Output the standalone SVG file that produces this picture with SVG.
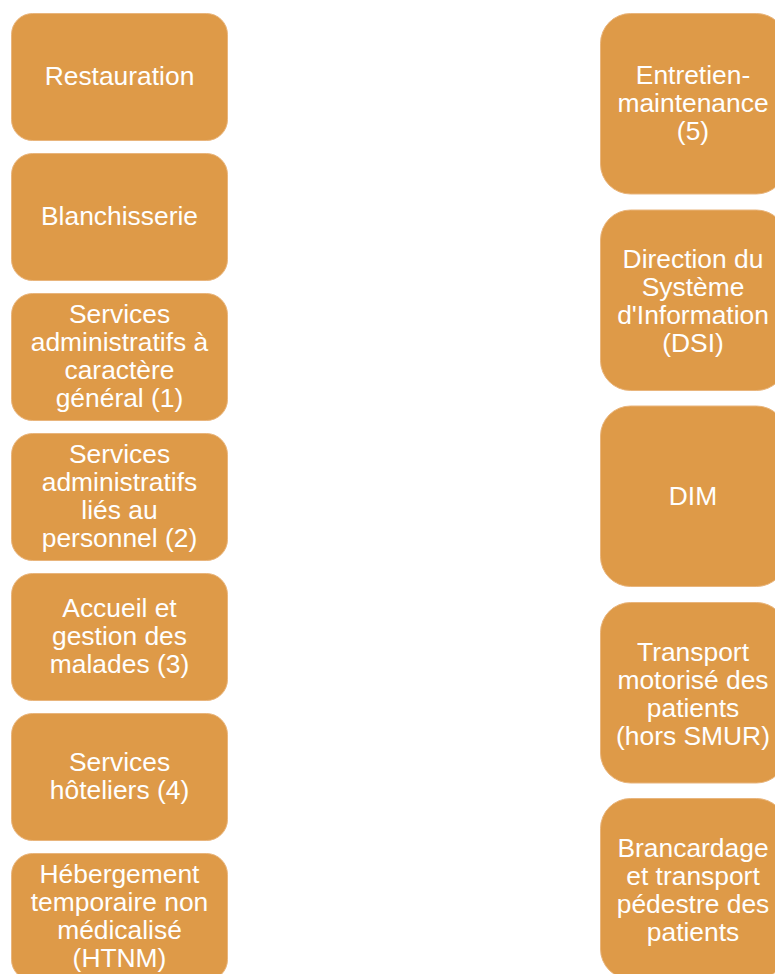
<svg xmlns="http://www.w3.org/2000/svg" width="775" height="974" viewBox="0 0 775 974">
<style>
.box{fill:#DE9A48;stroke:#E9B57C;stroke-width:1}
text{font-family:"Liberation Sans",Arial,sans-serif;font-size:26.4px;fill:#FFFFFF;text-anchor:middle}
</style>
<rect width="775" height="974" fill="#FFFFFF"/>
<g id="connectors"></g>
<g id="n-restauration">
<rect class="box" x="11.5" y="13.5" width="216" height="127" rx="21"/>
<text x="119.5" y="85">Restauration</text>
</g>
<g id="n-blanchisserie">
<rect class="box" x="11.5" y="153.5" width="216" height="127" rx="21"/>
<text x="119.5" y="225">Blanchisserie</text>
</g>
<g id="n-services-admin-general">
<rect class="box" x="11.5" y="293.5" width="216" height="127" rx="21"/>
<text x="119.5" y="323">Services</text>
<text x="119.5" y="351">administratifs à</text>
<text x="119.5" y="379">caractère</text>
<text x="119.5" y="407">général (1)</text>
</g>
<g id="n-services-admin-personnel">
<rect class="box" x="11.5" y="433.5" width="216" height="127" rx="21"/>
<text x="119.5" y="463">Services</text>
<text x="119.5" y="491">administratifs</text>
<text x="119.5" y="519">liés au</text>
<text x="119.5" y="547">personnel (2)</text>
</g>
<g id="n-accueil">
<rect class="box" x="11.5" y="573.5" width="216" height="127" rx="21"/>
<text x="119.5" y="617">Accueil et</text>
<text x="119.5" y="645">gestion des</text>
<text x="119.5" y="673">malades (3)</text>
</g>
<g id="n-hoteliers">
<rect class="box" x="11.5" y="713.5" width="216" height="127" rx="21"/>
<text x="119.5" y="771">Services</text>
<text x="119.5" y="799">hôteliers (4)</text>
</g>
<g id="n-htnm">
<rect class="box" x="11.5" y="853.5" width="216" height="127" rx="21"/>
<text x="119.5" y="883">Hébergement</text>
<text x="119.5" y="911">temporaire non</text>
<text x="119.5" y="939">médicalisé</text>
<text x="119.5" y="967">(HTNM)</text>
</g>
<g id="n-entretien">
<rect class="box" x="600.5" y="13.5" width="186" height="180.5" rx="30"/>
<text x="693" y="84">Entretien-</text>
<text x="693" y="112">maintenance</text>
<text x="693" y="140">(5)</text>
</g>
<g id="n-dsi">
<rect class="box" x="600.5" y="210" width="186" height="180.5" rx="30"/>
<text x="693" y="268">Direction du</text>
<text x="693" y="296">Système</text>
<text x="693" y="324">d'Information</text>
<text x="693" y="352">(DSI)</text>
</g>
<g id="n-dim">
<rect class="box" x="600.5" y="406" width="186" height="180.5" rx="30"/>
<text x="693" y="505">DIM</text>
</g>
<g id="n-transport">
<rect class="box" x="600.5" y="602.5" width="186" height="180.5" rx="30"/>
<text x="693" y="661">Transport</text>
<text x="693" y="689">motorisé des</text>
<text x="693" y="717">patients</text>
<text x="693" y="745">(hors SMUR)</text>
</g>
<g id="n-brancardage">
<rect class="box" x="600.5" y="798.5" width="186" height="180.5" rx="30"/>
<text x="693" y="857">Brancardage</text>
<text x="693" y="885">et transport</text>
<text x="693" y="913">pédestre des</text>
<text x="693" y="941">patients</text>
</g>
</svg>
